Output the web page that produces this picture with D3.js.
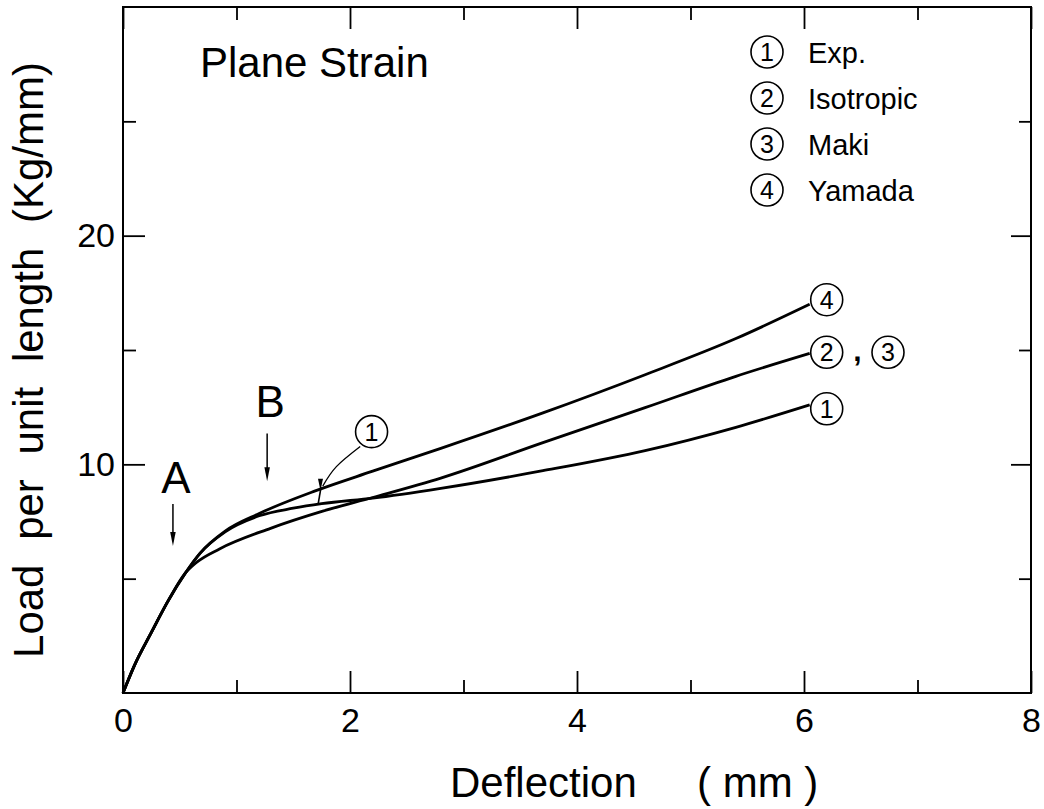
<!DOCTYPE html>
<html>
<head>
<meta charset="utf-8">
<script src="https://cdn.jsdelivr.net/npm/d3@7.9.0/dist/d3.min.js"></script>
<style>
  body { margin: 0; background: #fff; }
  svg { display: block; }
  text { font-family: "Liberation Sans", Arial, sans-serif; fill: #000; }
</style>
</head>
<body>
<svg id="chart" width="1044" height="809"></svg>
<script>
// deflection (mm) / load (Kg/mm)
const startX = [0, 0.1, 0.25, 0.4, 0.55];
const startY = [0, 1.2, 2.65, 4.05, 5.25];

const expX = [0.68, 0.9, 1.2, 1.5, 1.75, 2.2, 2.8, 3.7, 4.6, 5.4, 6.05];
const expY = [6.12, 7.05, 7.75, 8.08, 8.28, 8.52, 8.95, 9.72, 10.6, 11.62, 12.6];

const isoX = [0.65, 0.85, 1.3, 1.76, 2.2, 2.8, 3.7, 4.6, 5.4, 6.05];
const isoY = [5.72, 6.3, 7.2, 7.95, 8.55, 9.4, 10.95, 12.48, 13.85, 14.85];

const yamX = [0.68, 0.9, 1.2, 1.7, 2.2, 2.8, 3.7, 4.6, 5.4, 6.05];
const yamY = [6.12, 7.08, 7.85, 8.85, 9.7, 10.7, 12.25, 13.92, 15.5, 17.0];

const legendNums = ['1', '2', '3', '4'];
const legendNames = ['Exp.', 'Isotropic', 'Maki', 'Yamada'];

const xMajor = [0, 2, 4, 6, 8];
const xMinor = [1, 3, 5, 7];
const yMajor = [10, 20];
const yMinor = [5, 15, 25];

const W = 1044, H = 809;
const margin = { top: 7, right: 13, bottom: 116, left: 123 };
const iw = W - margin.left - margin.right;
const ih = H - margin.top - margin.bottom;

const svg = d3.select('#chart');
const g = svg.append('g').attr('transform', `translate(${margin.left},${margin.top})`);

const x = d3.scaleLinear().domain([0, 8]).range([0, iw]);
const y = d3.scaleLinear().domain([0, 30]).range([ih, 0]);

function toPts(xs, ys) {
    return xs.map((v, i) => [v, ys[i]]);
}
const start = toPts(startX, startY);
const series = [
    start.concat(toPts(expX, expY)),
    start.concat(toPts(isoX, isoY)),
    start.concat(toPts(yamX, yamY))
];

// frame
g.append('rect')
    .attr('width', iw).attr('height', ih)
    .attr('fill', 'none').attr('stroke', '#000').attr('stroke-width', 2);

// ticks, all pointing inward
const majLen = 22, minLen = 13;
function styleAxis(sel) {
    sel.select('.domain').remove();
    sel.selectAll('line').attr('stroke', '#000').attr('stroke-width', 1.8);
    sel.selectAll('text').style('font-size', '34px').attr('fill', '#000');
}
g.append('g').attr('transform', `translate(0,${ih})`)
    .call(d3.axisBottom(x).tickValues(xMajor).tickSize(-majLen).tickPadding(15).tickFormat(d3.format('d')))
    .call(styleAxis);
g.append('g').attr('transform', `translate(0,${ih})`)
    .call(d3.axisBottom(x).tickValues(xMinor).tickSize(-minLen).tickFormat(''))
    .call(styleAxis);
g.append('g')
    .call(d3.axisTop(x).tickValues(xMajor).tickSize(-majLen).tickFormat(''))
    .call(styleAxis);
g.append('g')
    .call(d3.axisTop(x).tickValues(xMinor).tickSize(-minLen).tickFormat(''))
    .call(styleAxis);
g.append('g')
    .call(d3.axisLeft(y).tickValues(yMajor).tickSize(-majLen).tickPadding(8).tickFormat(d3.format('d')))
    .call(styleAxis);
g.append('g')
    .call(d3.axisLeft(y).tickValues(yMinor).tickSize(-minLen).tickFormat(''))
    .call(styleAxis);
g.append('g').attr('transform', `translate(${iw},0)`)
    .call(d3.axisRight(y).tickValues(yMajor).tickSize(-20).tickFormat(''))
    .call(styleAxis);
g.append('g').attr('transform', `translate(${iw},0)`)
    .call(d3.axisRight(y).tickValues(yMinor).tickSize(-12).tickFormat(''))
    .call(styleAxis);

// curves
const line = d3.line().x(d => x(d[0])).y(d => y(d[1])).curve(d3.curveMonotoneX);
g.selectAll('.curve')
    .data(series)
    .join('path')
    .attr('class', 'curve')
    .attr('d', line)
    .attr('fill', 'none')
    .attr('stroke', '#000')
    .attr('stroke-width', 2.8)
    .attr('stroke-linejoin', 'round');

// circled number helper
function circled(parent, cx, cy, label, r = 16, fs = 25) {
    parent.append('circle').attr('cx', cx).attr('cy', cy).attr('r', r)
        .attr('fill', '#fff').attr('stroke', '#000').attr('stroke-width', 1.6);
    parent.append('text').attr('x', cx).attr('y', cy + fs * 0.36)
        .attr('text-anchor', 'middle').style('font-size', fs + 'px').text(label);
}

// end-of-curve labels
circled(g, x(6.2), y(17.2), '4');
circled(g, x(6.2), y(14.9), '2');
g.append('text').attr('x', x(6.47)).attr('y', y(14.5))
    .attr('text-anchor', 'middle').style('font-size', '30px').style('font-weight', 'bold').text(',');
circled(g, x(6.74), y(14.9), '3');
circled(g, x(6.2), y(12.43), '1');

// annotation for curve 1 with curved leader
const leader = [[2.09, 10.78], [1.88, 9.9], [1.76, 9.05]];
g.append('path')
    .attr('d', d3.line().x(d => x(d[0])).y(d => y(d[1])).curve(d3.curveNatural)(leader))
    .attr('fill', 'none').attr('stroke', '#000').attr('stroke-width', 1.3);
g.append('line')
    .attr('x1', x(1.745)).attr('y1', y(9.0)).attr('x2', x(1.72)).attr('y2', y(8.28))
    .attr('stroke', '#000').attr('stroke-width', 1.6);
function arrowHead(px, py, len, wid) {
    g.append('path')
        .attr('d', `M${px},${py} L${px - wid / 2},${py - len} L${px + wid / 2},${py - len} Z`)
        .attr('fill', '#000');
}
arrowHead(x(1.74), y(8.85), 12, 5);
circled(g, x(2.19), y(11.43), '1');

// A / B markers
const marks = [
    { name: 'A', xv: 0.44, top: 8.26, bot: 6.43, ly: 8.74 },
    { name: 'B', xv: 1.27, top: 11.35, bot: 9.26, ly: 12.09 }
];
marks.forEach(m => {
    g.append('line')
        .attr('x1', x(m.xv)).attr('x2', x(m.xv))
        .attr('y1', y(m.top)).attr('y2', y(m.bot) - 8)
        .attr('stroke', '#000').attr('stroke-width', 1.5);
    arrowHead(x(m.xv), y(m.bot), 14, 5.5);
    g.append('text')
        .attr('x', x(m.xv) + 3).attr('y', y(m.ly))
        .attr('text-anchor', 'middle').style('font-size', '44px').text(m.name);
});

// title inside the frame
svg.append('text').attr('x', 200).attr('y', 77)
    .style('font-size', '42px').text('Plane Strain');

// legend
const lg = svg.append('g').attr('transform', 'translate(767,52)');
legendNums.forEach((n, i) => {
    const cy = i * 46;
    circled(lg, 0, cy, n);
    lg.append('text').attr('x', 41).attr('y', cy + 11)
        .style('font-size', '29px').text(legendNames[i]);
});

// axis titles
svg.append('text').attr('x', 450).attr('y', 797)
    .style('font-size', '42px').text('Deflection');
svg.append('text').attr('x', 697).attr('y', 797)
    .style('font-size', '42px').style('white-space', 'pre').text('( mm )');
svg.append('text')
    .attr('transform', 'translate(43,360) rotate(-90)')
    .attr('text-anchor', 'middle')
    .style('font-size', '42px').style('word-spacing', '13px')
    .text('Load per unit length (Kg/mm)');
</script>
</body>
</html>
